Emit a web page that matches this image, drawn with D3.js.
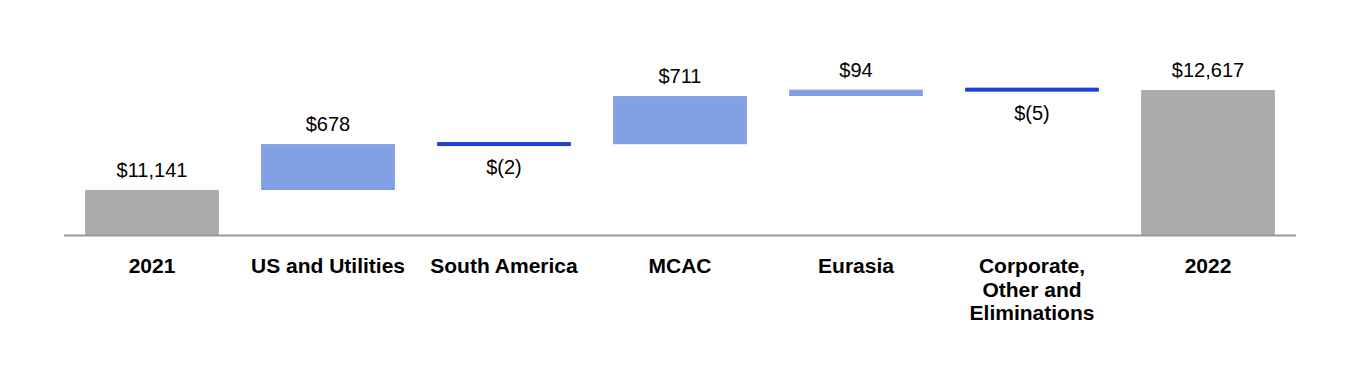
<!DOCTYPE html>
<html>
<head>
<meta charset="utf-8">
<script src="https://cdn.jsdelivr.net/npm/d3@7"></script>
<style>
  body { margin: 0; background: #fff; }
  text { font-family: "Liberation Sans", Arial, sans-serif; fill: #000; }
</style>
</head>
<body>
<div id="viz-container"></div>
<script>
var CATEGORIES = ['2021', 'US and Utilities', 'South America', 'MCAC', 'Eurasia', 'Corporate, Other and Eliminations', '2022'];
var LABEL_LINES = [['2021'], ['US and Utilities'], ['South America'], ['MCAC'], ['Eurasia'], ['Corporate,', 'Other and', 'Eliminations'], ['2022']];
var VALUES = [11141, 678, -2, 711, 94, -5, 12617];
var KINDS = ['total', 'delta', 'delta', 'delta', 'delta', 'delta', 'total'];

var BASE = 10477; // value at the axis line (chart does not start at zero)

function buildData() {
	var run = 0;
	return CATEGORIES.map(function(c, i) {
		var v = VALUES[i], d;
		if (KINDS[i] === 'total') {
			d = {cat: c, v: v, lo: BASE, hi: v, kind: 'total'};
			run = v;
		} else {
			var next = run + v;
			d = {cat: c, v: v, lo: Math.min(run, next), hi: Math.max(run, next), kind: v < 0 ? 'neg' : 'pos'};
			run = next;
		}
		d.lines = LABEL_LINES[i];
		return d;
	});
}

function fmt(v) {
	var s = d3.format(',')(Math.abs(v));
	return v < 0 ? '$(' + s + ')' : '$' + s;
}

var data = buildData();

var svg = d3.select('#viz-container').append('svg')
	.attr('width', 1360)
	.attr('height', 390);

var x = d3.scaleBand()
	.domain(CATEGORIES)
	.range([64, 1296])
	.paddingInner(0.24)
	.paddingOuter(0.12);

var y = d3.scaleLinear()
	.domain([BASE, 12617])
	.range([235, 90]);

var colors = {total: '#ababab', pos: '#82a0e6', neg: '#1f3fd6'};

var g = svg.append('g');

g.selectAll('rect.bar')
	.data(data)
	.enter().append('rect')
	.attr('class', 'bar')
	.attr('x', function(d) { return x(d.cat); })
	.attr('width', x.bandwidth())
	.attr('y', function(d) {
		var h = y(d.lo) - y(d.hi);
		return h < 4 ? y(d.hi) - 2 : y(d.hi);
	})
	.attr('height', function(d) { return Math.max(4, y(d.lo) - y(d.hi)); })
	.attr('fill', function(d) { return colors[d.kind]; });

// axis line
svg.append('line')
	.attr('x1', 64).attr('x2', 1296)
	.attr('y1', 235.5).attr('y2', 235.5)
	.attr('stroke', '#9a9a9a')
	.attr('stroke-width', 2);

// value labels
g.selectAll('text.val')
	.data(data)
	.enter().append('text')
	.attr('class', 'val')
	.attr('x', function(d) { return x(d.cat) + x.bandwidth() / 2; })
	.attr('y', function(d) { return d.kind === 'neg' ? y(d.lo) + 30 : y(d.hi) - 13; })
	.attr('text-anchor', 'middle')
	.style('font-size', '20px')
	.text(function(d) { return fmt(d.v); });

// category labels
var cl = g.selectAll('text.cat')
	.data(data)
	.enter().append('text')
	.attr('class', 'cat')
	.attr('text-anchor', 'middle')
	.style('font-size', '21px')
	.style('font-weight', 'bold');

cl.selectAll('tspan')
	.data(function(d) { return d.lines.map(function(l) { return {l: l, cx: x(d.cat) + x.bandwidth() / 2}; }); })
	.enter().append('tspan')
	.attr('x', function(t) { return t.cx; })
	.attr('y', function(t, i) { return 273 + i * 23.5; })
	.text(function(t) { return t.l; });
</script>
</body>
</html>
